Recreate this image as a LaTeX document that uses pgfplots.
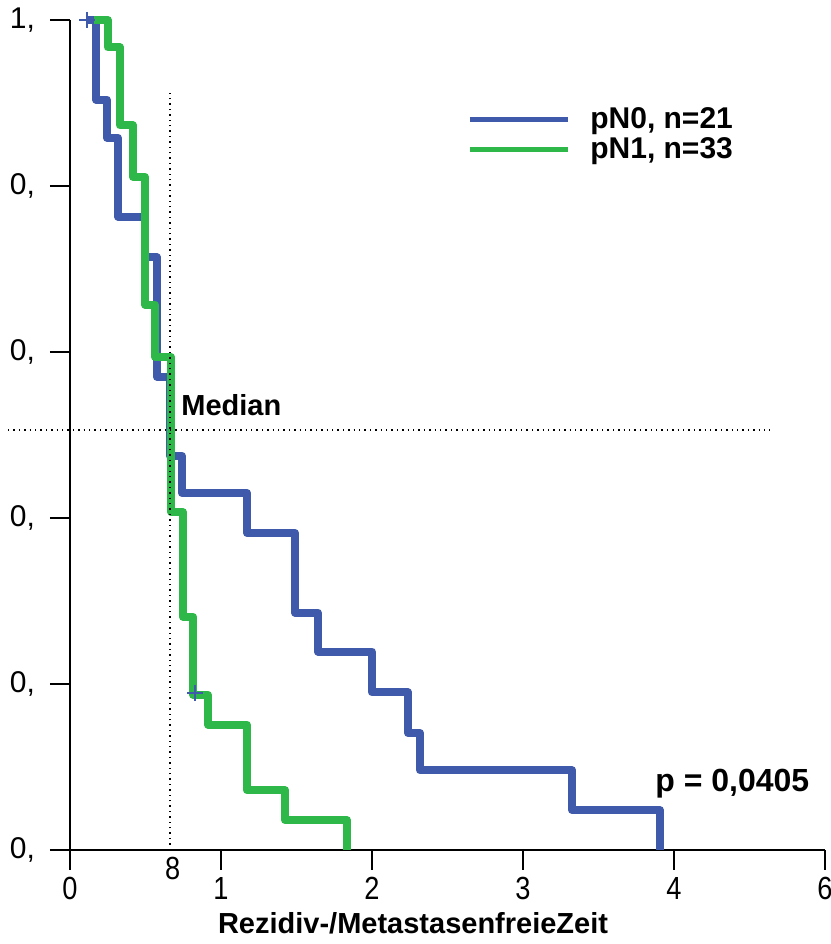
\documentclass[border=0pt]{standalone}
\usepackage{fontspec}
\setmainfont{Liberation Sans}
\usepackage{graphicx}
\usepackage{pgfplots}
\pgfplotsset{compat=1.18}

\definecolor{nblue}{RGB}{63,90,170}
\definecolor{ngreen}{RGB}{46,184,74}

\begin{document}
\begin{tikzpicture}
\begin{axis}[
    scale only axis,
    width=377.5pt,
    height=415pt,
    xmin=0, xmax=5,
    ymin=0, ymax=1,
    clip=false,
    axis x line=bottom,
    axis y line=left,
    axis line style={-, line width=1pt},
    tick align=outside,
    major tick length=10pt,
    tick style={black, line width=1pt},
    xtick={0,1,2,3,4,5},
    xticklabels={0,1,2,3,4,6},
    extra x ticks={0.68},
    extra x tick labels={8},
    extra x tick style={major tick length=0pt},
    ytick={0,0.2,0.4,0.6,0.8,1},
    yticklabels={{0,},{0,},{0,},{0,},{0,},{1,}},
    xticklabel style={font=\fontsize{16}{16}\selectfont, xscale=0.85},
    yticklabel style={font=\fontsize{15}{15}\selectfont, xshift=-4pt},
    legend style={
        at={(axis cs:2.629,0.8957)},
        anchor=north west,
        draw=none, fill=none,
        inner sep=0pt,
        row sep=1pt,
        font=\bfseries\fontsize{15}{15}\selectfont,
        nodes={inner sep=0pt, text height=10.7pt, text depth=3.2pt},
        /tikz/every odd column/.append style={column sep=10pt},
    },
    legend image code/.code={\draw[line width=2.5pt] (0pt,0.5pt) -- (49pt,0.5pt);},
]
% pN0
\addplot[const plot, nblue, line width=4pt, line join=round] coordinates {
    (0.113,1.000) (0.172,0.904) (0.245,0.858) (0.318,0.763) (0.497,0.714)
    (0.576,0.570) (0.662,0.475) (0.742,0.430) (1.172,0.382) (1.490,0.286)
    (1.642,0.239) (2.000,0.190) (2.238,0.141) (2.318,0.096) (3.325,0.048)
    (3.907,0.000)
};
\addlegendentry{pN0, n=21}
% pN1
\addplot[const plot, ngreen, line width=4pt, line join=round] coordinates {
    (0.160,1.000) (0.250,0.967) (0.331,0.873) (0.417,0.811) (0.497,0.657)
    (0.563,0.594) (0.669,0.407) (0.748,0.281) (0.815,0.187) (0.914,0.151)
    (1.172,0.072) (1.424,0.036) (1.834,0.000)
};
\addlegendentry{pN1, n=33}
% censored
\addplot[only marks, mark=+, nblue, mark size=4pt, line width=1pt, forget plot]
    coordinates {(0.113,1.000) (0.828,0.189)};
% median lines
\addplot[black, dotted, line width=0.7pt, forget plot] coordinates {(0.662,0) (0.662,0.916)};
\addplot[black, dotted, line width=0.7pt, forget plot] coordinates {(-0.41,0.506) (4.636,0.506)};

\node[anchor=base west, inner sep=0pt, font=\bfseries\fontsize{14.5}{14.5}\selectfont]
    at (axis cs:0.735,0.524) {Median};
\node[anchor=base west, inner sep=0pt, font=\bfseries\fontsize{16}{16}\selectfont]
    at (axis cs:3.874,0.070) {p = 0,0405};
\node[anchor=base, inner sep=0pt, font=\bfseries\fontsize{14.5}{14.5}\selectfont]
    at (axis cs:2.272,-0.101) {Rezidiv-/MetastasenfreieZeit};

\coordinate (bl) at (axis cs:-0.4636,-0.1133);
\coordinate (tr) at (axis cs:5.040,1.0241);
\end{axis}
\pgfresetboundingbox
\path (bl) rectangle (tr);
\end{tikzpicture}
\end{document}
